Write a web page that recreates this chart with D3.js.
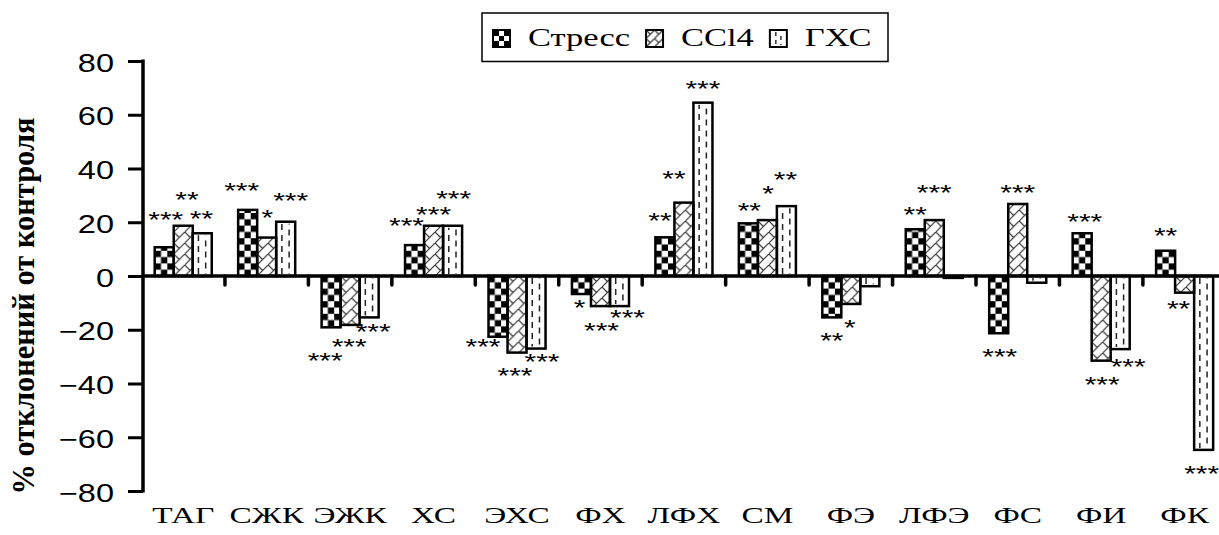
<!DOCTYPE html>
<html>
<head>
<meta charset="utf-8">
<script src="https://cdn.jsdelivr.net/npm/d3@7"></script>
<style>
  html, body { margin: 0; padding: 0; background: #fff; }
  svg { display: block; }
</style>
</head>
<body>
<svg id="chart" width="1219" height="535"></svg>
<script>
// ---- data ----
const categories = ["ТАГ", "СЖК", "ЭЖК", "ХС", "ЭХС", "ФХ", "ЛФХ", "СМ", "ФЭ", "ЛФЭ", "ФС", "ФИ", "ФК"];
const seriesNames = ["Стресс", "CCl4", "ГХС"];
const stressValues = [10.7, 24.6, -19.1, 11.5, -22.6, -6.7, 14.4, 19.6, -15.4, 17.4, -21.3, 15.9, 9.4];
const ccl4Values   = [18.7, 14.3, -18.2, 18.7, -28.5, -11.2, 27.3, 20.8, -10.4, 20.8, 26.8, -31.5, -6.2];
const ghsValues    = [15.9, 20.2, -15.4, 18.7, -27.0, -11.2, 64.5, 26.0, -3.8, -0.7, -2.5, -27.2, -64.7];
// significance marks
const stressStars = ["***", "***", "***", "***", "***", "*", "**", "**", "**", "**", "***", "***", "**"];
const ccl4Stars   = ["**", "*", "***", "***", "***", "***", "**", "*", "*", "***", "***", "***", "**"];
const ghsStars    = ["**", "***", "***", "***", "***", "***", "***", "**", "", "", "", "***", "***"];
const yTicks = [-80, -60, -40, -20, 0, 20, 40, 60, 80];
const yTitle = "% отклонений от контроля";

// ---- layout: distance of each mark from its bar end, and sideways nudge (px) ----
const starGap = [
  [33, 25, 28, 25, 4, 8, 22, 18, 18, 20, 18, 17, 21],
  [32, 25, 16, 17, 18, 19, 30, 32, 18, 33, 17, 18, 10],
  [20, 27, 9, 33, 8, 6, 20, 32, 0, 0, 0, 12, 18]
];
const starShift = [
  [1.5, -6, -6, -8, -15, -2, -5, 1, 0, 0, 1, 2.6, 0],
  [3.7, 0.7, -1, 0, -2, 1, -10, 0.6, -1, 0, 0, 1, -6],
  [-0.8, 5, 4, 1, 6, 8, 0, -1, 0, 0, 0, 8, -2]
];

const SANS = '"Liberation Sans", Arial, sans-serif';
const SERIF = '"Liberation Serif", "Times New Roman", serif';

const svg = d3.select("#chart");
const defs = svg.append("defs");

const plotLeft = 141.5, step = 83.45;
const x = d3.scaleBand().domain(categories).range([plotLeft, plotLeft + step * categories.length]);
const xs = d3.scaleBand().domain(seriesNames).range([13.2, x.bandwidth() - 13.2]);
const y = d3.scaleLinear().domain([-80, 80]).range([491, 61]);

// places a text at (px, py) and widens it horizontally by k
function placeWide(sel, px, py, k) {
  sel.attr("x", 0).attr("y", 0)
    .attr("transform", (d, i, n) => `translate(${typeof px === "function" ? px(d, i, n) : px},${typeof py === "function" ? py(d, i, n) : py}) scale(${k},1)`);
}

// ---- fill patterns ----
function checker(id, ox, oy, cell) {
  const p = defs.append("pattern").attr("id", id).attr("patternUnits", "userSpaceOnUse")
    .attr("x", ox).attr("y", oy).attr("width", cell * 2).attr("height", cell * 2);
  p.append("rect").attr("width", cell * 2).attr("height", cell * 2).attr("fill", "#fff");
  p.append("rect").attr("x", 0).attr("y", 0).attr("width", cell).attr("height", cell).attr("fill", "#000");
  p.append("rect").attr("x", cell).attr("y", cell).attr("width", cell).attr("height", cell).attr("fill", "#000");
}
function brick(id, ox, oy, s) {
  const p = defs.append("pattern").attr("id", id).attr("patternUnits", "userSpaceOnUse")
    .attr("x", ox).attr("y", oy).attr("width", s).attr("height", s);
  p.append("rect").attr("width", s).attr("height", s).attr("fill", "#fff");
  p.append("path").attr("d", `M-1,${s + 1} L${s + 1},-1 M0,0 L${s / 2},${s / 2}`)
    .attr("stroke", "#333").attr("stroke-width", 1.2).attr("fill", "none");
}

const valuesBySeries = [stressValues, ccl4Values, ghsValues];
const starsBySeries = [stressStars, ccl4Stars, ghsStars];
const bars = [];
seriesNames.forEach((s, si) => categories.forEach((c, ci) => {
  bars.push({ s, si, c, ci, v: valuesBySeries[si][ci], stars: starsBySeries[si][ci] });
}));
const bx = d => x(d.c) + xs(d.s);
const bw = xs.bandwidth();
const y0 = y(0);

bars.forEach((d, i) => {
  d.id = "fill" + i;
  if (d.si === 0) checker(d.id, bx(d), y0, 6.3);
  else if (d.si === 1) brick(d.id, bx(d), y0, 11);
});

// ---- bars ----
const gBars = svg.append("g");
gBars.selectAll("rect.bar").data(bars).join("rect")
  .attr("class", "bar")
  .attr("x", bx)
  .attr("y", d => Math.min(y(d.v), y0))
  .attr("width", bw)
  .attr("height", d => Math.abs(y(d.v) - y0))
  .attr("fill", d => d.si === 2 ? "#fff" : `url(#${d.id})`);

// dashed vertical strokes of the third series
const ghsBars = bars.filter(d => d.si === 2 && Math.abs(y(d.v) - y0) > 6);
[[0.3, 0], [0.68, 5.5]].forEach(([f, off]) => {
  gBars.selectAll(null).data(ghsBars).join("line")
    .attr("x1", d => bx(d) + bw * f).attr("x2", d => bx(d) + bw * f)
    .attr("y1", d => y0 + (d.v > 0 ? -2 : 2))
    .attr("y2", d => y(d.v) + (d.v > 0 ? 2 : -2))
    .attr("stroke", "#222").attr("stroke-width", 1.5)
    .attr("stroke-dasharray", "6,5").attr("stroke-dashoffset", off);
});

gBars.selectAll("rect.outline").data(bars).join("rect")
  .attr("class", "outline")
  .attr("x", bx)
  .attr("y", d => Math.min(y(d.v), y0))
  .attr("width", bw)
  .attr("height", d => Math.abs(y(d.v) - y0))
  .attr("fill", "none").attr("stroke", "#000").attr("stroke-width", 2.5);

// ---- axes ----
const yAxis = svg.append("g").attr("transform", "translate(143,0)")
  .call(d3.axisLeft(y).tickValues(yTicks).tickSize(15).tickSizeOuter(0).tickPadding(14).tickFormat(d3.format("d")));
yAxis.attr("font-family", SANS).attr("font-size", 25);
yAxis.select(".domain").attr("stroke", "#000").attr("stroke-width", 3.5)
  .attr("d", `M0,${y(80) - 1.5}V${y(-80) + 1.5}`);
yAxis.selectAll(".tick line").attr("stroke", "#000").attr("stroke-width", 3);
yAxis.selectAll(".tick text").attr("fill", "#000").attr("dy", "0.4em")
  .call(placeWide, -29, 0, 1.3);

// zero line
svg.append("line").attr("x1", 143).attr("x2", 1219).attr("y1", y0).attr("y2", y0)
  .attr("stroke", "#000").attr("stroke-width", 3.5);

// category separators
const seps = d3.range(1, categories.length).map(k => plotLeft + k * x.step());
svg.append("g").selectAll("line").data(seps).join("line")
  .attr("x1", d => d).attr("x2", d => d)
  .attr("y1", y0).attr("y2", y0 + 9)
  .attr("stroke", "#000").attr("stroke-width", 3.5).attr("stroke-linecap", "round");

// category labels
const xAxis = svg.append("g").attr("transform", "translate(0,523)")
  .call(d3.axisBottom(x).tickSize(0).tickPadding(0));
xAxis.attr("font-family", SERIF).attr("font-size", 23.5);
xAxis.select(".domain").remove();
xAxis.selectAll(".tick text").attr("dy", 0).attr("fill", "#000")
  .call(placeWide, 0, 0, 1.42);

// ---- significance marks ----
const starFont = 22;
svg.append("g").attr("font-family", SANS).attr("font-size", starFont)
  .selectAll("text").data(bars.filter(d => d.stars)).join("text")
  .attr("text-anchor", "middle")
  .attr("fill", "#000")
  .text(d => d.stars)
  .call(placeWide,
    d => bx(d) + bw / 2 + starShift[d.si][d.ci],
    d => (d.v >= 0 ? y(d.v) - starGap[d.si][d.ci] : y(d.v) + starGap[d.si][d.ci]) + starFont * 0.585,
    1.36);

// ---- y title ----
svg.append("text")
  .attr("transform", "translate(34,306) scale(1.3,1) rotate(-90)")
  .attr("text-anchor", "middle")
  .attr("font-family", SERIF).attr("font-weight", "bold").attr("font-size", 25)
  .attr("textLength", 377).attr("lengthAdjust", "spacingAndGlyphs")
  .attr("fill", "#000")
  .text(yTitle);

// ---- legend ----
const legend = svg.append("g");
legend.append("rect").attr("x", 482).attr("y", 13).attr("width", 406).attr("height", 48.5)
  .attr("fill", "#fff").attr("stroke", "#000").attr("stroke-width", 1.5);
let cx = 493;
const sw = 17, swY = 30, wide = 1.38;
seriesNames.forEach((name, si) => {
  const id = "leg" + si;
  if (si === 0) checker(id, cx + 1, swY + 1, 5);
  else if (si === 1) brick(id, cx, swY, 8.5);
  legend.append("rect").attr("x", cx).attr("y", swY).attr("width", sw).attr("height", sw)
    .attr("fill", si === 2 ? "#fff" : `url(#${id})`);
  if (si === 2) {
    [[0.35, 0], [0.65, 4]].forEach(([f, off]) => {
      legend.append("line").attr("x1", cx + sw * f).attr("x2", cx + sw * f)
        .attr("y1", swY + 2).attr("y2", swY + sw - 2)
        .attr("stroke", "#222").attr("stroke-width", 1.4)
        .attr("stroke-dasharray", "4,4").attr("stroke-dashoffset", off);
    });
  }
  legend.append("rect").attr("x", cx).attr("y", swY).attr("width", sw).attr("height", sw)
    .attr("fill", "none").attr("stroke", "#000").attr("stroke-width", 2);
  const t = legend.append("text")
    .attr("font-family", SERIF).attr("font-size", 25).attr("fill", "#000").text(name)
    .call(placeWide, cx + 35, 45.5, wide);
  const w = t.node().getComputedTextLength() * wide;
  cx = cx + 35 + w + 16;
});
</script>
</body>
</html>
